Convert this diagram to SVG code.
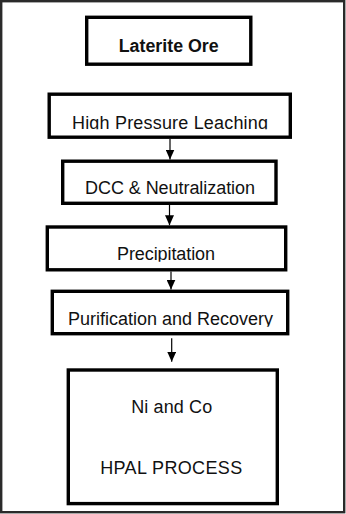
<svg xmlns="http://www.w3.org/2000/svg" width="346" height="514" viewBox="0 0 346 514">
<style>
.box{fill:#fff;stroke:#000;stroke-width:3.4}
.t{font-family:"Liberation Sans",Arial,sans-serif;font-size:18px;fill:#111;text-anchor:middle}
.b{font-weight:bold}
.c{stroke:#000;stroke-width:1.2;fill:none}
</style>
<defs>
<marker id="ah" markerUnits="userSpaceOnUse" markerWidth="10" markerHeight="9" refX="10" refY="4.5" orient="auto" viewBox="0 0 10 9">
<path d="M0,0 L10,4.5 L0,9 Z" fill="#000"/>
</marker>
<clipPath id="c1"><rect x="50" y="95" width="240" height="34.3"/></clipPath>
<clipPath id="c3"><rect x="48" y="228" width="237" height="33.8"/></clipPath>
<clipPath id="c4"><rect x="53" y="292" width="234" height="34.8"/></clipPath>
</defs>
<rect x="1.2" y="1.2" width="343" height="511" fill="#fff" stroke="#2a2a2a" stroke-width="2.4"/>
<g id="laterite-ore">
<rect class="box" x="86.7" y="17.3" width="164.1" height="46.9"/>
<text class="t b" x="168.7" y="51.7" textLength="100" lengthAdjust="spacingAndGlyphs">Laterite Ore</text>
</g>
<g id="high-pressure-leaching">
<rect class="box" x="49.2" y="94.2" width="241.1" height="43"/>
<text class="t" x="170" y="128.5" clip-path="url(#c1)" textLength="196">High Pressure Leaching</text>
</g>
<g id="dcc-neutralization">
<rect class="box" x="62.7" y="161.2" width="213.3" height="42.1"/>
<text class="t" x="170" y="194.3" textLength="170">DCC &amp; Neutralization</text>
</g>
<g id="precipitation">
<rect class="box" x="47.3" y="227" width="238.4" height="42.8"/>
<text class="t" x="166" y="260" clip-path="url(#c3)" textLength="98">Precipitation</text>
</g>
<g id="purification-recovery">
<rect class="box" x="52.3" y="291.3" width="235.4" height="42.4"/>
<text class="t" x="170.5" y="325" clip-path="url(#c4)" textLength="205">Purification and Recovery</text>
</g>
<g id="ni-co-hpal">
<rect class="box" x="68.3" y="370" width="209" height="133.6"/>
<text class="t" x="171.7" y="412.7" textLength="81">Ni and Co</text>
<text class="t" x="171.2" y="474" textLength="142">HPAL PROCESS</text>
</g>
<g id="connectors">
<line class="c" x1="170" y1="139" x2="170" y2="159.5" marker-end="url(#ah)"/>
<line class="c" x1="169.5" y1="205" x2="169.5" y2="225.3" marker-end="url(#ah)"/>
<line class="c" x1="171" y1="271.5" x2="171" y2="289.6" marker-end="url(#ah)"/>
<line class="c" x1="171.7" y1="338.3" x2="171.7" y2="361.7" marker-end="url(#ah)"/>
</g>
</svg>
